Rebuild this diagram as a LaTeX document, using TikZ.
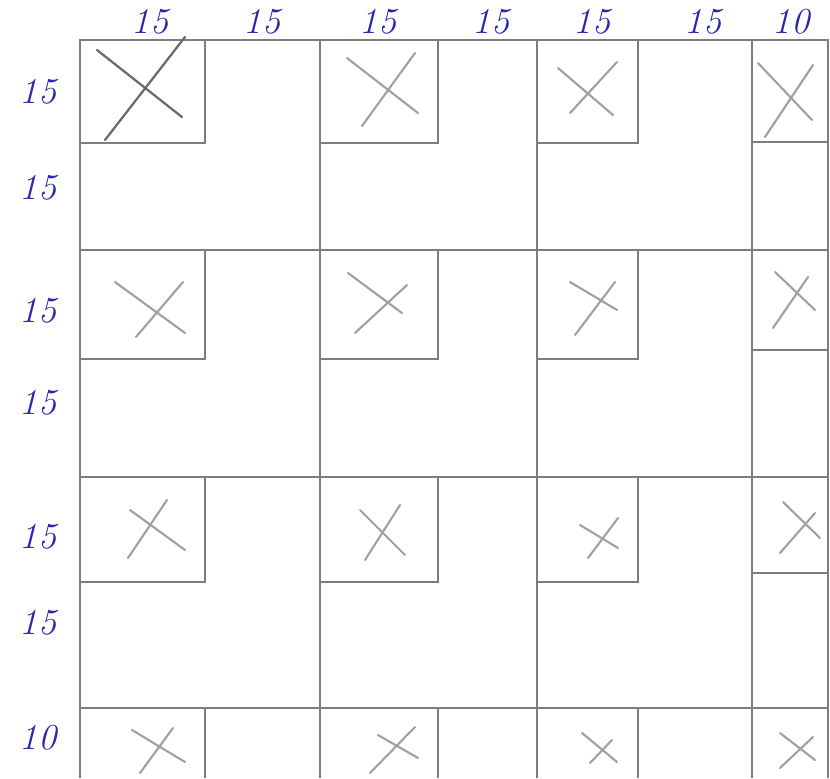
\documentclass[tikz,border=0pt]{standalone}
\usepackage{tikz}
\usetikzlibrary{positioning}
\definecolor{pencil}{RGB}{125,125,125}
\definecolor{pencillight}{RGB}{160,160,160}
\definecolor{inkblue}{RGB}{40,40,170}
\tikzset{
    frame/.style={draw=pencil,line width=1.4pt},
    cell/.style={draw=pencil,line width=1.2pt},
    cross/.style={draw=pencillight,line width=1.5pt,line cap=round},
    bigcross/.style={draw=pencil!85!black,line width=1.6pt,line cap=round},
    num/.style={text=inkblue,font=\fontsize{26}{26}\selectfont\itshape,inner sep=0pt},
}

\begin{document}
\begin{tikzpicture}[x=0.025cm,y=-0.025cm]
\useasboundingbox (0,0) rectangle (830,778);

% sizes along the top and the left side
\foreach \x/\t [count=\i] in {150/15,262/15,378/15,491/15,592/15,703/15,791/10}
    \node[num] (top\i) at (\x,22) {\t};
\foreach \y/\t [count=\i] in {92/15,188/15,311/15,403/15,537/15,623/15,738/10}
    \node[num] (left\i) at (38,\y) {\t};

% main grid
\draw[frame] (80,778) -- (80,40) -- (828,40) -- (828,778);
\foreach \y in {250,477,708} \draw[frame] (80,\y) -- (828,\y);
\foreach \x in {320,537,752} \draw[frame] (\x,40) -- (\x,778);

% small squares in the first three columns
\foreach \xl/\xr in {80/205,320/438,537/638}{
    \foreach \yt/\yb in {40/143,250/359,477/582}
        \draw[cell] (\xr,\yt) -- (\xr,\yb) -- (\xl,\yb);
    \draw[cell] (\xr,708) -- (\xr,778);
}
% narrow last column
\foreach \yb in {142,350,573} \draw[cell] (752,\yb) -- (828,\yb);

% crosses
\draw[bigcross] (97,50) -- (182,117) (185,37) -- (105,140);
\foreach \a/\b/\c/\d/\e/\f/\g/\h in {
    347/58/418/113/415/53/362/126, 558/68/613/115/617/62/570/113,
    758/63/812/120/813/65/765/137, 115/282/185/333/183/282/136/337,
    348/273/402/313/407/285/355/333, 570/282/617/310/615/282/575/335,
    775/272/815/310/808/277/773/328, 130/510/185/550/167/500/128/558,
    360/510/405/555/400/505/365/560, 580/525/618/548/618/518/588/558,
    783/502/820/538/815/513/780/553, 132/730/185/762/173/728/140/773,
    378/735/418/758/415/727/370/773, 582/733/617/762/612/740/590/763,
    780/733/815/760/813/737/780/768}
    \draw[cross] (\a,\b) -- (\c,\d) (\e,\f) -- (\g,\h);
\end{tikzpicture}
\end{document}
